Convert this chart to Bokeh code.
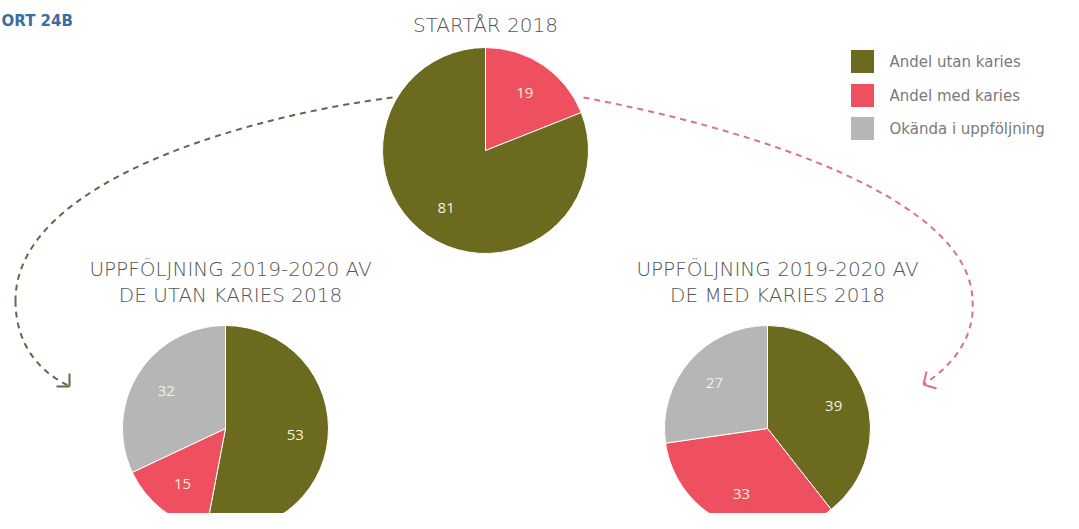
import numpy as np
from bokeh.plotting import figure
from bokeh.models import Range1d
from bokeh.core.properties import value
from bokeh.embed import file_html
from bokeh.resources import INLINE

# ---------------- data ----------------
categories = ["Andel utan karies", "Andel med karies", "Okända i uppföljning"]
cat_colors = ["#6b6a1f", "#ef5060", "#b6b6b6"]

top_title = "STARTÅR 2018"
top_cats = ["Andel med karies", "Andel utan karies"]
top_values = [19, 81]

left_title = ["UPPFÖLJNING 2019-2020 AV", "DE UTAN KARIES 2018"]
left_cats = ["Andel utan karies", "Andel med karies", "Okända i uppföljning"]
left_values = [53, 15, 32]

right_title = ["UPPFÖLJNING 2019-2020 AV", "DE MED KARIES 2018"]
right_cats = ["Andel utan karies", "Andel med karies", "Okända i uppföljning"]
right_values = [39, 33, 27]

corner_text = "ORT 24B"

# ---------------- figure (data coords == picture pixel coords, y flipped) ----------------
W, H = 1063, 513
p = figure(width=W, height=H, x_range=Range1d(0, W), y_range=Range1d(0, H),
           output_backend="svg", toolbar_location=None, min_border=0,
           x_axis_location=None, y_axis_location=None)
p.grid.visible = False
p.outline_line_color = None
p.background_fill_color = "white"


def Y(v):
    return H - np.asarray(v, dtype=float)


color_of = dict(zip(categories, cat_colors))
TITLE_FONT = value("'DejaVu Sans ExtraLight', 'DejaVu Sans Light', 'DejaVu Sans'")
TITLE_COLOR = "#555555"
TITLE_SIZE = "20px"


def pie(cx, cy, cats, vals, r, label_r=0.68):
    vals = np.asarray(vals, dtype=float)
    frac = vals / vals.sum()
    ends = np.pi / 2 - 2 * np.pi * np.cumsum(frac)
    starts = np.concatenate([[np.pi / 2], ends[:-1]])
    cols = [color_of[c] for c in cats]
    p.wedge(x=cx, y=Y(cy), radius=r, start_angle=ends, end_angle=starts,
            fill_color=cols, line_color="white", line_width=1)
    mid = (starts + ends) / 2
    lx = cx + label_r * r * np.cos(mid)
    ly = Y(cy) + label_r * r * np.sin(mid)
    p.text(x=lx, y=ly, text=[str(int(v)) for v in vals], text_align="center",
           text_baseline="middle", text_color="#f3f0de", text_font=value("Open Sans"),
           text_font_size="15px")


R = 103
pie(485, 150, top_cats, top_values, R)
pie(225, 428, left_cats, left_values, R)
pie(767, 428, right_cats, right_values, R)

# titles
p.text(x=[485], y=Y([24]), text=[top_title], text_align="center", text_baseline="middle",
       text_color=TITLE_COLOR, text_font=TITLE_FONT, text_font_size=TITLE_SIZE)
p.text(x=[230, 230], y=Y([268, 294]), text=left_title, text_align="center",
       text_baseline="middle", text_color=TITLE_COLOR, text_font=TITLE_FONT,
       text_font_size=TITLE_SIZE)
p.text(x=[777, 777], y=Y([268, 294]), text=right_title, text_align="center",
       text_baseline="middle", text_color=TITLE_COLOR, text_font=TITLE_FONT,
       text_font_size=TITLE_SIZE)

# corner label
p.text(x=[1], y=Y([20]), text=[corner_text], text_align="left", text_baseline="middle",
       text_color="#3b6e9f", text_font=value("DejaVu Sans"), text_font_style="bold",
       text_font_size="15px")

# legend
leg_y = [61, 95, 128]
p.rect(x=[862] * 3, y=Y(leg_y), width=23, height=23, fill_color=cat_colors, line_color=None)
p.text(x=[889] * 3, y=Y(leg_y), text=categories, text_align="left", text_baseline="middle",
       text_color="#7a7a7a", text_font=value("'DejaVu Sans ExtraLight', 'DejaVu Sans'"),
       text_font_size="15px")

# dashed arrows (decoration)
olive_arrow = "#66664a"
pink_arrow = "#df6f8a"
p.bezier(x0=[392, 15], y0=Y([97, 300]), x1=[15, 68], y1=Y([300, 385]),
         cx0=[250, 15], cy0=Y([115, 345]), cx1=[15, 40], cy1=Y([180, 372]),
         line_color=olive_arrow, line_width=2, line_dash="6 5")
p.multi_line(xs=[[56, 69], [69, 69]], ys=[list(Y([386, 386])), list(Y([386, 373]))],
             line_color=olive_arrow, line_width=2)

p.bezier(x0=[583, 972], y0=Y([97, 300]), x1=[972, 923], y1=Y([300, 384]),
         cx0=[760, 975], cy0=Y([130, 340]), cx1=[970, 948], cy1=Y([200, 368]),
         line_color=pink_arrow, line_width=2, line_dash="6 5")
p.multi_line(xs=[[923, 926], [923, 936]], ys=[list(Y([384, 371])), list(Y([384, 388]))],
             line_color=pink_arrow, line_width=2)

open("out.html", "w").write(file_html(p, INLINE))
